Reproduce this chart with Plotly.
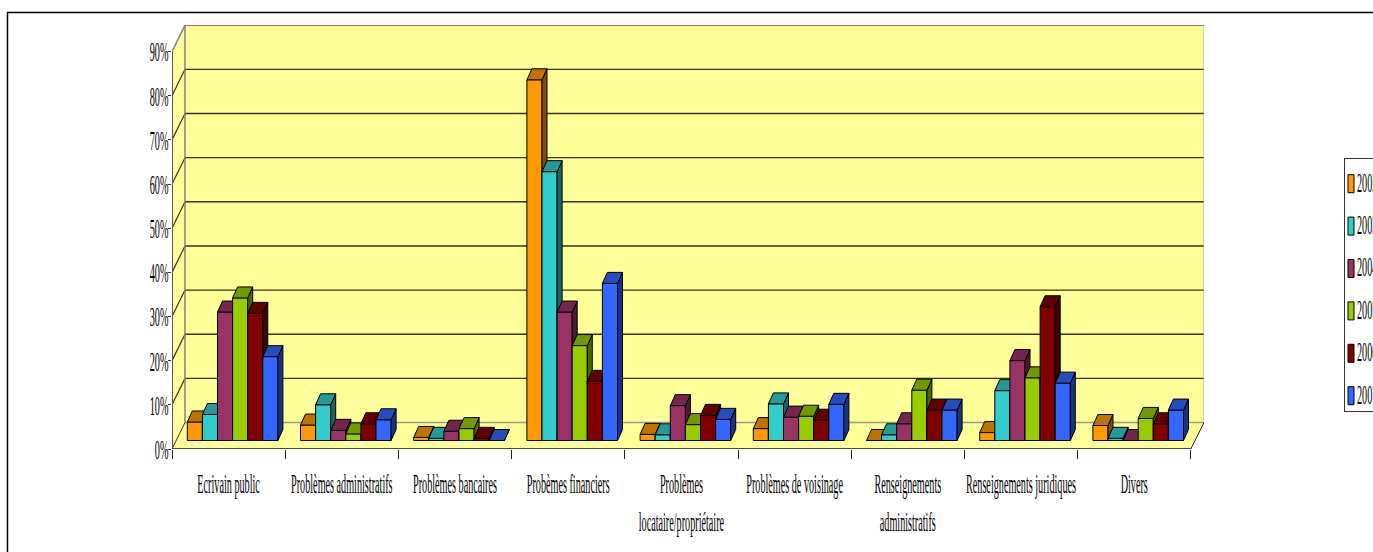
import plotly.graph_objects as go

categories = [
    "Ecrivain public",
    "Problèmes administratifs",
    "Problèmes bancaires",
    "Probèmes financiers",
    "Problèmes<br>locataire/propriétaire",
    "Problèmes de voisinage",
    "Renseignements<br>administratifs",
    "Renseignements juridiques",
    "Divers",
]

years = ["2002", "2003", "2004", "2005", "2006", "2007"]

y2002 = [4.2, 3.5, 0.7, 81.7, 1.4, 2.7, 0.0, 1.8, 3.4]
y2003 = [5.9, 8.1, 0.5, 60.9, 1.3, 8.3, 1.3, 11.3, 0.5]
y2004 = [29.1, 2.3, 2.1, 29.1, 7.9, 5.3, 3.8, 18.1, 0.0]
y2005 = [32.3, 1.5, 2.7, 21.5, 3.6, 5.5, 11.4, 14.2, 5.0]
y2006 = [28.8, 3.8, 0.5, 13.4, 5.7, 4.6, 6.9, 30.3, 3.8]
y2007 = [19.0, 4.7, 0.0, 35.6, 4.8, 8.2, 6.9, 13.0, 6.9]

series_values = [y2002, y2003, y2004, y2005, y2006, y2007]

front_colors = ["#FF9900", "#33CCCC", "#993366", "#99CC00", "#800000", "#3366FF"]
top_colors = ["#BF7300", "#269999", "#73264D", "#739900", "#600000", "#264DBF"]
side_colors = ["#804D00", "#1A6666", "#4D1A33", "#4D6600", "#400000", "#1A3380"]

percent_ticks = list(range(0, 100, 10))

# Oblique projection, in axis units: one category is 113.2 px, 1 % is 4.42 px.
PX_X = 113.2
PX_Y = 4.42
wall_dx, wall_dy = 13 / PX_X, 26.5 / PX_Y      # floor depth
bar_dx, bar_dy = 5 / PX_X, 11 / PX_Y           # bar depth
floor_y = 8.5 / PX_Y                           # bars stand in the middle of the floor
bar_start = 15.3 / PX_X
bar_width = 15.1 / PX_X
x_max = 1032 / PX_X
y_max = 424.5 / PX_Y
WALL = "#FFFF99"

SERIF = "Liberation Serif"
LABEL_SIZE = 28
SQUEEZE = 0.364


def faces(values, j):
    """Top and side parallelograms of every bar in series j."""
    top_x, top_y, side_x, side_y = [], [], [], []
    for i, v in enumerate(values):
        left = i + bar_start + j * bar_width
        right = left + bar_width
        high = floor_y + v
        top_x += [left, right, right + bar_dx, left + bar_dx, left, None]
        top_y += [high, high, high + bar_dy, high + bar_dy, high, None]
        side_x += [right, right + bar_dx, right + bar_dx, right, right, None]
        side_y += [floor_y, floor_y + bar_dy, high + bar_dy, high, floor_y, None]
    return top_x, top_y, side_x, side_y


fig = go.Figure()

# Each series sits on its own overlaid axis pair, so a bar front covers the
# side face of the series drawn before it.
for j, (year, values) in enumerate(zip(years, series_values)):
    suffix = "" if j == 0 else str(j + 1)
    xa, ya = "x" + suffix, "y" + suffix
    top_x, top_y, side_x, side_y = faces(values, j)
    fig.add_trace(go.Bar(
        x=list(range(len(values))), y=values, base=floor_y,
        offset=bar_start + j * bar_width, width=bar_width,
        name=year, legendgroup=year, xaxis=xa, yaxis=ya,
        marker=dict(color=front_colors[j], line=dict(color="#000000", width=1)),
    ))
    for fx, fy, color in ((side_x, side_y, side_colors[j]), (top_x, top_y, top_colors[j])):
        fig.add_trace(go.Scatter(
            x=fx, y=fy, mode="lines", fill="toself", fillcolor=color,
            line=dict(color="#000000", width=1), xaxis=xa, yaxis=ya,
            showlegend=False, legendgroup=year, hoverinfo="skip",
        ))
    if j > 0:
        fig.update_layout({
            "xaxis" + suffix: dict(overlaying="x", range=[0, x_max], visible=False),
            "yaxis" + suffix: dict(overlaying="y", range=[0, y_max], visible=False),
        })


def data_line(x0, y0, x1, y1, color, width=1):
    return dict(type="line", xref="x", yref="y", x0=x0, y0=y0, x1=x1, y1=y1,
                line=dict(color=color, width=width), layer="below")


def data_poly(points, fill, line_color=None):
    path = "M " + " L ".join(f"{px:.4f},{py:.4f}" for px, py in points) + " Z"
    return dict(type="path", xref="x", yref="y", path=path, fillcolor=fill,
                line=dict(color=line_color or fill, width=1), layer="below")


shapes = [
    # Chart frame, running off the page on the right and at the bottom
    dict(type="rect", xref="paper", yref="paper",
         x0=(7.5 - 172) / 1032, x1=1.3,
         y0=-0.3, y1=1 + (25 - 12.5) / 424.5,
         line=dict(color="#000000", width=1.5), layer="below"),
    # Back wall, side wall and floor
    data_poly([(wall_dx, wall_dy), (x_max, wall_dy), (x_max, y_max), (wall_dx, y_max)], WALL),
    data_poly([(0, 0), (wall_dx, wall_dy), (wall_dx, y_max), (0, 90)], WALL),
    data_poly([(0, 0), (9, 0), (x_max, wall_dy), (wall_dx, wall_dy)], WALL),
]
for level in percent_ticks:
    back = level + wall_dy
    dark = "#33331C"
    if level == 0:
        shapes.append(data_line(wall_dx, back, x_max, back, "#9A9A80", 1.5))
    elif level == 90:
        shapes.append(data_line(wall_dx, back, x_max, back, "#808080", 1.5))
        shapes.append(data_line(0, level, wall_dx, back, "#808080", 1.5))
    else:
        shapes.append(data_line(wall_dx, back, x_max, back, dark, 1.4))
        shapes.append(data_line(0, level, wall_dx, back, dark, 1.2))
shapes += [
    data_line(wall_dx, wall_dy, wall_dx, y_max, "#808080", 1.5),
    data_line(x_max, wall_dy, x_max, y_max, "#A8A880", 1),
    data_line(0, 0, wall_dx, wall_dy, "#333333", 1),
    data_line(9, 0, x_max, wall_dy, "#222222", 1),
    data_line(0, 0, 0, 90, "#555555", 2),
    data_line(0, 0, 9, 0, "#111111", 1.5),
]

fig.update_layout(
    width=1373, height=552,
    margin=dict(l=172, r=169, t=25, b=102.5, autoexpand=False),
    paper_bgcolor="#FFFFFF", plot_bgcolor="rgba(0,0,0,0)",
    barmode="overlay",
    shapes=shapes,
    font=dict(family=SERIF, size=LABEL_SIZE, color="#000000"),
    xaxis=dict(
        range=[0, x_max], showgrid=False, zeroline=False, showline=False,
        tickmode="array", tickvals=[i + 0.5 for i in range(len(categories))],
        ticktext=categories, ticks="", tickangle=0,
        ticklabelstandoff=15,
        minor=dict(tickmode="array", tickvals=list(range(len(categories) + 1)),
                   ticks="outside", ticklen=9, tickcolor="#222222", tickwidth=1,
                   showgrid=False),
        tickfont=dict(family=SERIF, size=LABEL_SIZE),
    ),
    yaxis=dict(
        range=[0, y_max], showgrid=False, zeroline=False, showline=False,
        tickmode="array", tickvals=percent_ticks,
        ticktext=[f"{p}%" for p in percent_ticks],
        ticks="outside", ticklen=3, tickcolor="#333333", tickwidth=1,
        ticklabelstandoff=-6,
        tickfont=dict(family=SERIF, size=LABEL_SIZE),
    ),
    legend=dict(
        x=(1344 - 172) / 1032, y=1 - (159 - 25) / 424.5,
        xanchor="left", yanchor="top",
        bgcolor="#FFFFFF", bordercolor="#333333", borderwidth=1,
        font=dict(family=SERIF, size=LABEL_SIZE),
        tracegroupgap=3, traceorder="grouped",
    ),
    showlegend=True,
)

# Horizontally condensed serif labels, taller line pitch and tall narrow legend keys.
post_script = """
var gd = document.getElementById('{plot_id}');
function condense() {
  var s = %s;
  gd.querySelectorAll('.xtick text, .ytick text, .legendtext').forEach(function (t) {
    var tr = t.getAttribute('transform') || '';
    var isLegend = t.classList.contains('legendtext');
    if (isLegend) { t.setAttribute('x', 12); }
    if (tr.indexOf('scale') >= 0) return;
    var x = parseFloat(t.getAttribute('x')) || 0;
    var dy = isLegend ? -3 : 0;
    t.setAttribute('transform', tr + ' translate(' + (x * (1 - s)) + ',' + dy + ') scale(' + s + ',1)');
  });
  gd.querySelectorAll('.xtick text tspan.line').forEach(function (l) {
    if (l.getAttribute('dy') && l.getAttribute('dy') !== '0em') l.setAttribute('dy', '38px');
  });
  gd.querySelectorAll('.legendpoints path').forEach(function (p) {
    p.setAttribute('d', 'M3,9H-3V-9H3Z');
    p.setAttribute('transform', 'translate(6,0)');
  });
  var lg = gd.querySelector('g.legend');
  if (lg) {
    lg.setAttribute('transform', 'translate(1344,158)');
    var box = lg.querySelector('rect.bg');
    if (box) box.setAttribute('height', 253);
  }
}
condense();
gd.on('plotly_afterplot', condense);
""" % SQUEEZE

fig.write_html("out.html", post_script=post_script, config={"displayModeBar": False})
